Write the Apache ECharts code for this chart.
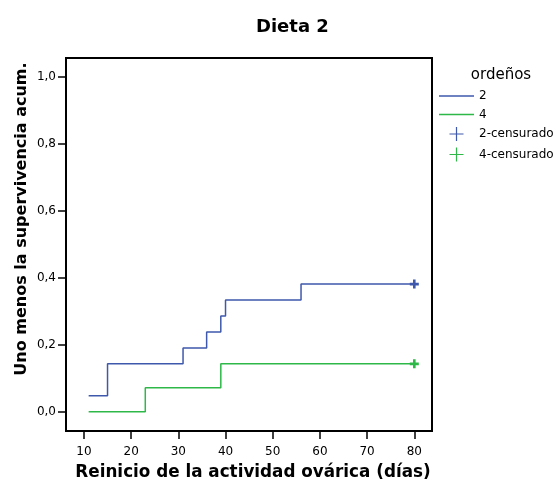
<!DOCTYPE html>
<html>
<head>
<meta charset="utf-8">
<script src="https://cdn.jsdelivr.net/npm/echarts@6/dist/echarts.min.js"></script>
<style>html,body{margin:0;padding:0;background:#fff}#c{width:560px;height:486px}</style>
</head>
<body>
<div id="c"></div>
<script>
// ---- data ----
const chartTitle = 'Dieta 2';
const xName = 'Reinicio de la actividad ovárica (días)';
const yName = 'Uno menos la supervivencia acum.';
const legendTitle = 'ordeños';
const seriesNames = ['2', '4', '2-censurado', '4-censurado'];
// step curve for group "2": time (days) and cumulative value
const times2 = [11, 15, 31, 36, 39, 40, 56, 80];
const values2 = [0.0476, 0.1429, 0.1905, 0.2381, 0.2857, 0.3333, 0.3810, 0.3810];
// step curve for group "4"
const times4 = [11, 23, 39, 80];
const values4 = [0.0, 0.0714, 0.1429, 0.1429];
// censored observations
const censTimes2 = [80];
const censValues2 = [0.3810];
const censTimes4 = [80];
const censValues4 = [0.1429];
const xTicks = [10, 20, 30, 40, 50, 60, 70, 80];
const yTicks = [0, 0.2, 0.4, 0.6, 0.8, 1.0];

const blue = '#3e58ac';
const green = '#2eb848';
const font = 'DejaVu Sans';
const zip = (a, b) => a.map((v, i) => [v, b[i]]);
const thickPlus = 'path://M0,3.2H9V5.8H0ZM3.2,0H5.8V9H3.2Z';
const thinPlus = 'path://M0,6.4H14V7.6H0ZM6.4,0H7.6V14H6.4Z';
const lineIcon = 'path://M0,0H35V1.5H0Z';

const chart = echarts.init(document.getElementById('c'), null, {renderer: 'canvas'});
chart.setOption({
  animation: false,
  backgroundColor: '#fff',
  textStyle: {fontFamily: font},
  title: {
    text: chartTitle, left: 251, top: 13,
    textStyle: {fontFamily: font, fontSize: 18, fontWeight: 'bold', color: '#000'}
  },
  grid: {
    left: 66, top: 58, right: 128, bottom: 55,
    show: true, borderColor: '#000', borderWidth: 2, backgroundColor: 'transparent'
  },
  legend: {
    orient: 'vertical', left: 439, top: 90, padding: 0,
    itemWidth: 35, itemHeight: 14, itemGap: 6.5,
    textStyle: {fontFamily: font, fontSize: 12, color: '#000'},
    data: [
      {name: seriesNames[0], icon: lineIcon},
      {name: seriesNames[1], icon: lineIcon},
      {name: seriesNames[2], icon: thinPlus},
      {name: seriesNames[3], icon: thinPlus}
    ]
  },
  xAxis: {
    type: 'value', min: 6.2, max: 83.75,
    name: xName, nameLocation: 'middle', nameGap: 33,
    nameTextStyle: {fontFamily: font, fontSize: 16.8, fontWeight: 'bold', color: '#000', padding: [0, 0, 0, 8]},
    axisLine: {show: false, onZero: false},
    axisTick: {show: true, length: 8, customValues: xTicks, lineStyle: {color: '#000', width: 1.5}},
    axisLabel: {customValues: xTicks, margin: 15, fontFamily: font, fontSize: 12, color: '#000'},
    splitLine: {show: false}
  },
  yAxis: {
    type: 'value', min: -0.0576, max: 1.056,
    axisLine: {show: false, onZero: false},
    axisTick: {show: true, length: 8, customValues: yTicks, lineStyle: {color: '#000', width: 1.5}},
    axisLabel: {customValues: yTicks, margin: 10, fontFamily: font, fontSize: 12, color: '#000',
      formatter: v => v.toFixed(1).replace('.', ',')},
    splitLine: {show: false}
  },
  graphic: [
    {type: 'text', x: 22, y: 219, rotation: Math.PI / 2,
      style: {text: yName, fontFamily: font, fontSize: 16, fontWeight: 'bold', fill: '#000',
        textAlign: 'center', textVerticalAlign: 'middle'}},
    {type: 'text', x: 501, y: 75,
      style: {text: legendTitle, fontFamily: font, fontSize: 15, fill: '#000',
        textAlign: 'center', textVerticalAlign: 'middle'}}
  ],
  series: [
    {name: seriesNames[0], type: 'line', step: 'end', symbol: 'none', data: zip(times2, values2),
      lineStyle: {color: blue, width: 1.5}, itemStyle: {color: blue}},
    {name: seriesNames[1], type: 'line', step: 'end', symbol: 'none', data: zip(times4, values4),
      lineStyle: {color: green, width: 1.5}, itemStyle: {color: green}},
    {name: seriesNames[2], type: 'scatter', symbol: thickPlus, symbolSize: 9, data: zip(censTimes2, censValues2),
      itemStyle: {color: blue, opacity: 1}},
    {name: seriesNames[3], type: 'scatter', symbol: thickPlus, symbolSize: 9, data: zip(censTimes4, censValues4),
      itemStyle: {color: green, opacity: 1}}
  ]
});
</script>
</body>
</html>
